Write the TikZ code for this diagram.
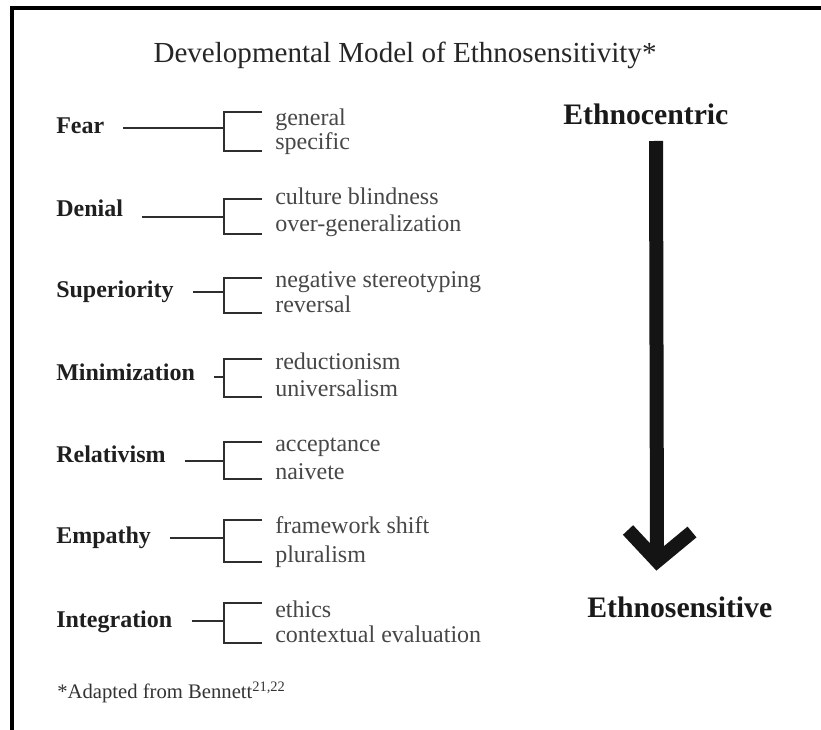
\documentclass[tikz,border=0pt]{standalone}
\usepackage{fontspec}
\setmainfont{Liberation Serif}
\usetikzlibrary{calc}
\newcommand\mkgroup[9]{%
  \node[lab] (#1) at (56,#2) {#1};
  \node[sub] (#1a) at (275,#7) {#6};
  \node[sub] (#1b) at (275,#9) {#8};
  \coordinate (#1j) at (224,#3);
  \coordinate (#1t) at (224,#4);
  \coordinate (#1s) at (224,#5);
  \draw[brk] ($(#1.east |- #1j)+(19,0)$) -- (#1j);
  \draw[brk] ($(#1a.west |- #1t)+(-13,0)$) -- (#1t) -- (#1s) -- ($(#1b.west |- #1s)+(-13,0)$);
}
\begin{document}
\begin{tikzpicture}[x=0.75pt,y=-0.75pt,
  lab/.style={anchor=base west,inner sep=0,font=\fontsize{18}{20}\selectfont\bfseries,text=black!88},
  sub/.style={anchor=base west,inner sep=0,font=\fontsize{18}{20}\selectfont,text=black!72},
  brk/.style={line width=2.1pt,draw=black!82,line join=miter},
  big/.style={anchor=base west,inner sep=0,font=\fontsize{22.3}{24}\selectfont\bfseries,text=black!90}]
\useasboundingbox (0,0) rectangle (821,730);
\fill[white] (0,0) rectangle (821,730);
% frame
\draw[line width=3pt] (12,735) -- (12,8) -- (830,8);
% title
\node[anchor=base,inner sep=0,font=\fontsize{21.8}{24}\selectfont,text=black!85] (title) at (405,63) {Developmental Model of Ethnosensitivity*};
% groups
\mkgroup{Fear}{134}{128}{112}{151}{general}{126}{specific}{150}
\mkgroup{Denial}{217}{217}{199}{234}{culture blindness}{205}{over-generalization}{232}
\mkgroup{Superiority}{298}{292}{278}{313}{negative stereotyping}{288}{reversal}{313}
\mkgroup{Minimization}{381}{377}{359}{397}{reductionism}{370}{universalism}{397}
\mkgroup{Relativism}{463}{461}{442}{479}{acceptance}{452}{naivete}{480}
\mkgroup{Empathy}{544}{538}{520}{562}{framework shift}{534}{pluralism}{562}
\mkgroup{Integration}{627}{621}{603}{643}{ethics}{617}{contextual evaluation}{642}
% right side
\node[big] (ec) at (563,125) {Ethnocentric};
\node[big] (es) at (587,617) {Ethnosensitive};
\coordinate (atop) at (656,141);
\coordinate (atip) at (657,561);
\coordinate (aleft) at (628,530);
\coordinate (aright) at (692,532);
\draw[line width=10.5pt,black!92] (atop) -- ($(atip)+(0,-6)$);
\draw[line width=10.5pt,black!92,line join=miter,miter limit=10] (aleft) -- (atip) -- (aright);
% footnote
\node[anchor=base west,inner sep=0,font=\fontsize{15.5}{17}\selectfont,text=black!80] (fn) at (57,698) {*Adapted from Bennett\textsuperscript{21,22}};
\end{tikzpicture}
\end{document}
